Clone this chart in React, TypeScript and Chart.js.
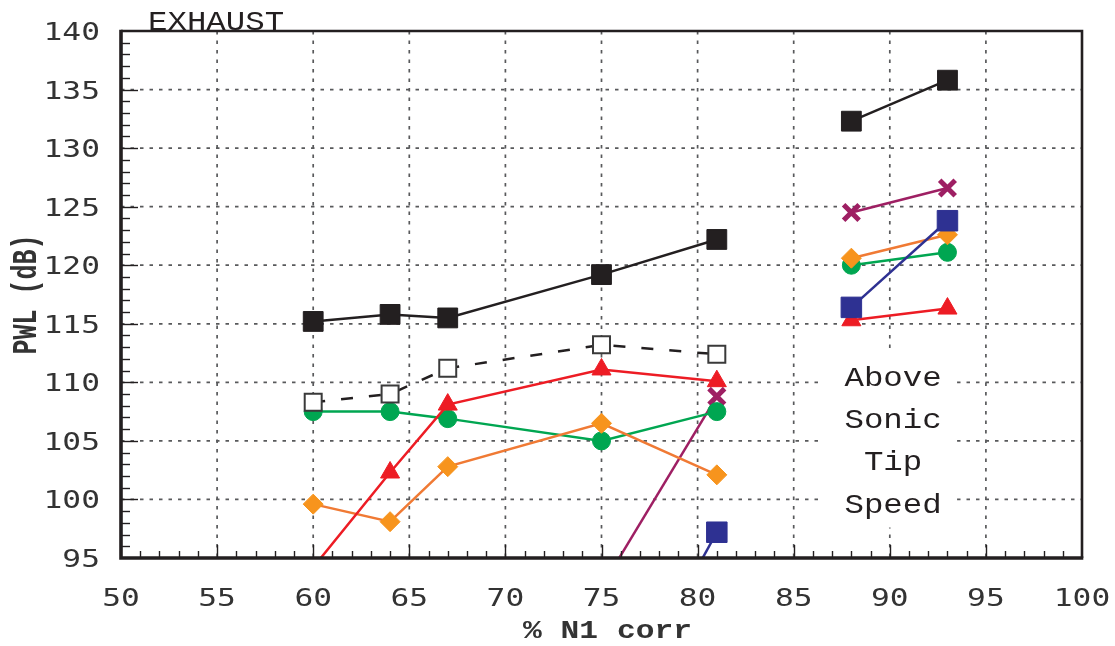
import React, { useEffect, useRef } from 'react';
import { Chart, registerables } from 'chart.js';

Chart.register(...registerables);

// ---- data ----
const N1_LOW = [60, 64, 67, 75, 81];
const N1_HIGH = [88, 93];

const TOTAL_LOW = [115.2, 115.8, 115.5, 119.2, 122.2];
const TOTAL_HIGH = [132.3, 135.8];
const OPEN_LOW = [108.3, 109.0, 111.2, 113.2, 112.4];
const BLUE_LOW = [null, null, null, 79.3, 97.2];
const BLUE_HIGH = [116.4, 123.8];
const RED_LOW = [94.2, 102.3, 108.1, 111.1, 110.1];
const RED_HIGH = [115.3, 116.3];
const ORANGE_LOW = [99.6, 98.1, 102.8, 106.5, 102.1];
const ORANGE_HIGH = [120.6, 122.6];
const GREEN_LOW = [107.5, 107.5, 106.9, 105.0, 107.5];
const GREEN_HIGH = [120.0, 121.1];
const PURPLE_LOW = [null, null, null, 92.5, 108.8];
const PURPLE_HIGH = [124.5, 126.6];

const X_TICKS = [50, 55, 60, 65, 70, 75, 80, 85, 90, 95, 100];
const Y_TICKS = [95, 100, 105, 110, 115, 120, 125, 130, 135, 140];
const X_MIN = 50, X_MAX = 100, Y_MIN = 95, Y_MAX = 140;

const PANEL_TITLE = 'EXHAUST';
const X_TITLE = '% N1 corr';
const Y_TITLE = 'PWL (dB)';
const NOTE_LINES = ['Above', 'Sonic', 'Tip', 'Speed'];
const NOTE_ROWS = [110.45, 106.85, 103.2, 99.6];
const NOTE_X = 90.17;
const NOTE_BOX = { x0: 86.5, x1: 93.5, y0: 97.6, y1: 112.6 };

const INK = '#231f20';

type Style = {
  color: string;
  fill: string;
  pointStyle: string;
  radius: number;
  pointBorderWidth: number;
  dash?: number[];
};

function pts(xs: number[], ys: (number | null)[]) {
  return xs.map((x, i) => ({ x, y: ys[i] }));
}

function ds(label: string, xs: number[], ys: (number | null)[], s: Style) {
  return {
    label,
    data: pts(xs, ys),
    borderColor: s.color,
    backgroundColor: s.fill,
    borderWidth: 2.5,
    borderDash: s.dash || [],
    pointStyle: s.pointStyle,
    pointBackgroundColor: s.fill,
    pointBorderColor: s.pointStyle === 'crossRot' ? s.color : (s.pointStyle === 'rect' && s.fill === '#ffffff' ? '#3a3a3a' : s.fill),
    pointBorderWidth: s.pointBorderWidth,
    pointRadius: (ctx: any) => {
      const raw = ctx.raw as { y: number | null } | undefined;
      return raw && raw.y !== null && raw.y < Y_MIN ? 0 : s.radius;
    },
    tension: 0,
    fill: false,
    spanGaps: false,
  };
}

const S_TOTAL: Style = { color: INK, fill: INK, pointStyle: 'rect', radius: 14, pointBorderWidth: 1 };
const S_OPEN: Style = { color: INK, fill: '#ffffff', pointStyle: 'rect', radius: 12, pointBorderWidth: 2, dash: [12, 16] };
const S_BLUE: Style = { color: '#2e3192', fill: '#2e3192', pointStyle: 'rect', radius: 14.5, pointBorderWidth: 1 };
const S_RED: Style = { color: '#ed1c24', fill: '#ed1c24', pointStyle: 'triangle', radius: 11, pointBorderWidth: 1 };
const S_ORANGE: Style = { color: '#f07a34', fill: '#f7941d', pointStyle: 'rectRot', radius: 10, pointBorderWidth: 1 };
const S_GREEN: Style = { color: '#00a651', fill: '#00a651', pointStyle: 'circle', radius: 9, pointBorderWidth: 1 };
const S_PURPLE: Style = { color: '#9e1f63', fill: '#9e1f63', pointStyle: 'crossRot', radius: 11, pointBorderWidth: 5 };

function drawText(ctx: CanvasRenderingContext2D, text: string, x: number, y: number, font: string, k: number, align: CanvasTextAlign, color: string, rotate = false) {
  ctx.save();
  ctx.translate(x, y);
  ctx.scale(k, 1);
  if (rotate) ctx.rotate(-Math.PI / 2);
  ctx.font = font;
  ctx.fillStyle = color;
  ctx.textAlign = align;
  ctx.textBaseline = 'alphabetic';
  ctx.fillText(text, 0, 0);
  ctx.restore();
}

const framePlugin = {
  id: 'frame',
  beforeDatasetsDraw(chart: any) {
    const { ctx, chartArea: a, scales } = chart;
    const xs = scales.x, ys = scales.y;
    ctx.save();
    // dotted grid
    ctx.strokeStyle = '#58595b';
    ctx.lineWidth = 1.7;
    ctx.setLineDash([3.5, 6]);
    X_TICKS.forEach((v) => {
      if (v <= X_MIN || v >= X_MAX) return;
      const px = xs.getPixelForValue(v);
      ctx.beginPath();
      ctx.moveTo(px, a.top);
      ctx.lineTo(px, a.bottom);
      ctx.stroke();
    });
    Y_TICKS.forEach((v) => {
      if (v <= Y_MIN || v >= Y_MAX) return;
      const py = ys.getPixelForValue(v);
      ctx.beginPath();
      ctx.moveTo(a.left, py);
      ctx.lineTo(a.right, py);
      ctx.stroke();
    });
    ctx.setLineDash([]);
    // white box behind note
    const bx0 = xs.getPixelForValue(NOTE_BOX.x0);
    const bx1 = xs.getPixelForValue(NOTE_BOX.x1);
    const by0 = ys.getPixelForValue(NOTE_BOX.y1);
    const by1 = ys.getPixelForValue(NOTE_BOX.y0);
    ctx.fillStyle = '#ffffff';
    ctx.fillRect(bx0, by0, bx1 - bx0, by1 - by0);
    ctx.restore();
  },
  afterDatasetsDraw(chart: any) {
    const { ctx, chartArea: a, scales } = chart;
    const xs = scales.x, ys = scales.y;
    ctx.save();
    // minor / major ticks (inward)
    ctx.strokeStyle = INK;
    ctx.lineWidth = 1.4;
    for (let v = Y_MIN + 1; v < Y_MAX; v++) {
      const py = Math.round(ys.getPixelForValue(v)) + 0.5;
      const len = v % 5 === 0 ? 17 : 9;
      ctx.beginPath();
      ctx.moveTo(a.left, py);
      ctx.lineTo(a.left + len, py);
      ctx.stroke();
    }
    for (let v = X_MIN + 1; v < X_MAX; v++) {
      const px = Math.round(xs.getPixelForValue(v)) + 0.5;
      const len = v % 5 === 0 ? 13 : 7;
      ctx.beginPath();
      ctx.moveTo(px, a.bottom);
      ctx.lineTo(px, a.bottom - len);
      ctx.stroke();
    }
    // frame
    ctx.strokeStyle = INK;
    ctx.lineWidth = 2.6;
    ctx.beginPath();
    ctx.moveTo(a.left, a.top);
    ctx.lineTo(a.right, a.top);
    ctx.lineTo(a.right, a.bottom);
    ctx.stroke();
    ctx.lineWidth = 3.6;
    ctx.beginPath();
    ctx.moveTo(a.left, a.top - 1.3);
    ctx.lineTo(a.left, a.bottom);
    ctx.lineTo(a.right + 1.3, a.bottom);
    ctx.stroke();

    // tick labels
    const tickFont = '25px "DejaVu Sans Mono"';
    Y_TICKS.forEach((v) => {
      const py = ys.getPixelForValue(v);
      drawText(ctx, String(v), 100, py + 9, tickFont, 1.25, 'right', '#333333');
    });
    X_TICKS.forEach((v) => {
      const px = xs.getPixelForValue(v);
      drawText(ctx, String(v), px, a.bottom + 47.5, tickFont, 1.25, 'center', '#333333');
    });

    // axis titles
    const titleFont = 'bold 25px "Liberation Mono"';
    drawText(ctx, X_TITLE, (a.left + a.right) / 2 + 6, 638, titleFont, 1.25, 'center', '#333333');
    drawText(ctx, Y_TITLE, 36, (a.top + a.bottom) / 2, titleFont, 1.4, 'center', '#333333', true);

    // panel label
    const labelFont = '27px "Liberation Mono"';
    drawText(ctx, PANEL_TITLE, 148, a.top - 1.5, labelFont, 1.2, 'left', INK);

    // note
    const nx = xs.getPixelForValue(NOTE_X);
    NOTE_LINES.forEach((t, i) => {
      const py = ys.getPixelForValue(NOTE_ROWS[i]);
      drawText(ctx, t, nx, py + 8.5, labelFont, 1.2, 'center', INK);
    });
    ctx.restore();
  },
};

export default function App() {
  const ref = useRef<HTMLCanvasElement | null>(null);
  useEffect(() => {
    if (!ref.current) return;
    const chart = new Chart(ref.current, {
      type: 'line',
      data: {
        datasets: [
          ds('Total high', N1_HIGH, TOTAL_HIGH, S_TOTAL),
          ds('Total low', N1_LOW, TOTAL_LOW, S_TOTAL),
          ds('Open low', N1_LOW, OPEN_LOW, S_OPEN),
          ds('Blue high', N1_HIGH, BLUE_HIGH, S_BLUE),
          ds('Blue low', N1_LOW, BLUE_LOW, S_BLUE),
          ds('Red high', N1_HIGH, RED_HIGH, S_RED),
          ds('Red low', N1_LOW, RED_LOW, S_RED),
          ds('Orange high', N1_HIGH, ORANGE_HIGH, S_ORANGE),
          ds('Orange low', N1_LOW, ORANGE_LOW, S_ORANGE),
          ds('Green high', N1_HIGH, GREEN_HIGH, S_GREEN),
          ds('Green low', N1_LOW, GREEN_LOW, S_GREEN),
          ds('Purple high', N1_HIGH, PURPLE_HIGH, S_PURPLE),
          ds('Purple low', N1_LOW, PURPLE_LOW, S_PURPLE),
        ] as any,
      },
      options: {
        animation: false,
        responsive: false,
        events: [],
        layout: { padding: { left: 0, top: 31, right: 33, bottom: 0 } },
        plugins: { legend: { display: false }, title: { display: false }, tooltip: { enabled: false } },
        scales: {
          x: {
            type: 'linear',
            min: X_MIN,
            max: X_MAX,
            ticks: { display: false },
            grid: { display: false },
            border: { display: false },
            afterFit: (s: any) => { s.height = 88; },
          },
          y: {
            type: 'linear',
            min: Y_MIN,
            max: Y_MAX,
            ticks: { display: false },
            grid: { display: false },
            border: { display: false },
            afterFit: (s: any) => { s.width = 121; },
          },
        },
      } as any,
      plugins: [framePlugin],
    });
    return () => chart.destroy();
  }, []);
  return (
    <div style={{ position: 'fixed', left: 0, top: 0, width: 1115, height: 646, background: '#fff' }}>
      <canvas ref={ref} width={1115} height={646} style={{ display: 'block', width: 1115, height: 646 }} />
    </div>
  );
}
